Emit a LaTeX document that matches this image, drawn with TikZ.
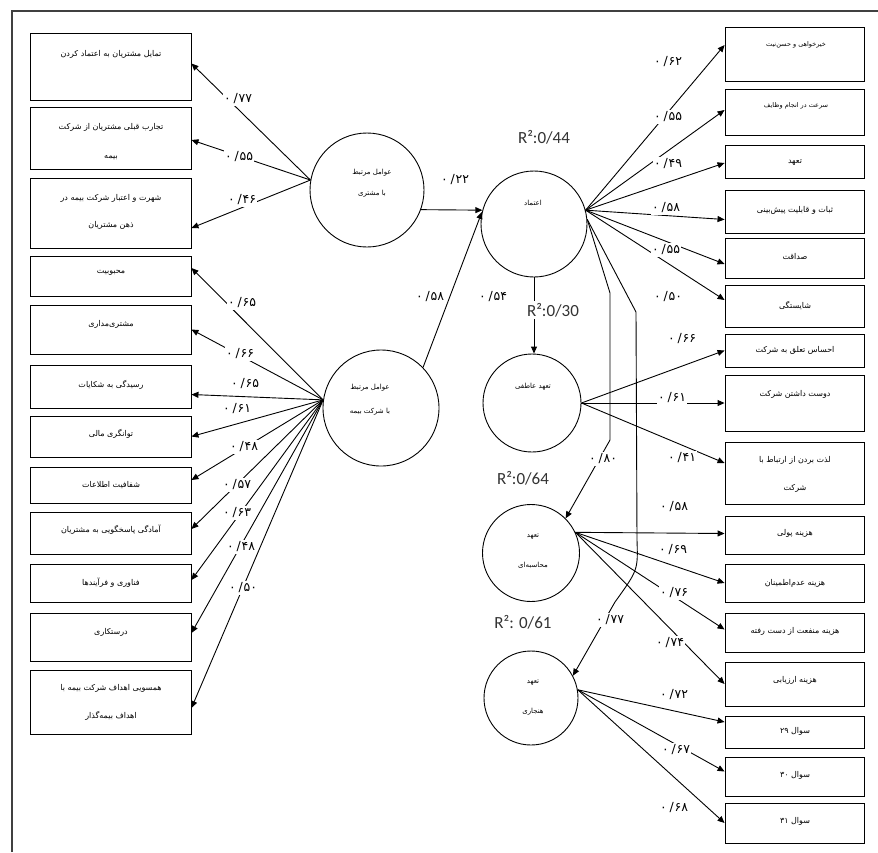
\documentclass[tikz,border=0pt]{standalone}
\usepackage{fontspec}
\setmainfont{DejaVu Sans}
\newfontfamily\arabicfont[Script=Arabic]{DejaVu Sans}
\newfontfamily\calibfont{Carlito}
\TeXXeTstate=1
\usetikzlibrary{arrows.meta,fit,calc}
\newcommand\fatext[1]{\hbox{\arabicfont\beginR #1\endR}}
\newcommand\ldg[1]{\hbox{\arabicfont\beginR\beginL ۰\kern3pt/\kern0.6pt#1\endL\endR}}
\begin{document}
\begin{tikzpicture}[x=1pt,y=-1pt,
  box/.style={draw, line width=0.9pt, inner sep=0pt},
  circ/.style={draw, circle, line width=0.9pt, inner sep=0pt},
  ftxt/.style={inner sep=0pt, font=\fontsize{8}{9}\selectfont},
  stxt/.style={inner sep=0pt, font=\fontsize{6.5}{7}\selectfont},
  ctxt/.style={inner sep=0pt, font=\fontsize{7}{8}\selectfont},
  lab/.style={fill=white, inner sep=1.5pt, font=\fontsize{12.5}{13}\selectfont},
  rsq/.style={fill=white, inner sep=2pt, font=\fontsize{17}{18}\selectfont\calibfont, text=black!80},
  conn/.style={draw, line width=0.9pt, -{Triangle[length=7pt,width=6pt]}}]
\useasboundingbox (0,0) rectangle (878,852);
% frame
\draw[line width=1.6pt, black!75] (12,852) -- (12,11) -- (878,11);

% left boxes
\node[box, fit={(30,33) (191,100)}] (l1) {};
\node[box, fit={(30,107) (191,169)}] (l2) {};
\node[box, fit={(30,178) (191,248)}] (l3) {};
\node[box, fit={(30,256) (191,296)}] (l4) {};
\node[box, fit={(30,305) (191,354)}] (l5) {};
\node[box, fit={(30,365) (191,408)}] (l6) {};
\node[box, fit={(30,416) (191,457)}] (l7) {};
\node[box, fit={(30,467) (191,503)}] (l8) {};
\node[box, fit={(30,512) (191,554)}] (l9) {};
\node[box, fit={(30,564) (191,602)}] (l10) {};
\node[box, fit={(30,613) (191,661)}] (l11) {};
\node[box, fit={(30,670) (191,734)}] (l12) {};

\node[ftxt] at (111,54) {\fatext{تمایل مشتریان به اعتماد کردن}};
\node[ftxt] at (111,127) {\fatext{تجارب قبلی مشتریان از شرکت}};
\node[ftxt] at (111,158) {\fatext{بیمه}};
\node[ftxt] at (111,198) {\fatext{شهرت و اعتبار شرکت بیمه در}};
\node[ftxt] at (111,225) {\fatext{ذهن مشتریان}};
\node[ftxt] at (111,273) {\fatext{محبوبیت}};
\node[ftxt] at (111,324) {\fatext{مشتری‌مداری}};
\node[ftxt] at (111,385) {\fatext{رسیدگی به شکایات}};
\node[ftxt] at (111,434) {\fatext{توانگری مالی}};
\node[ftxt] at (111,485) {\fatext{شفافیت اطلاعات}};
\node[ftxt] at (111,530) {\fatext{آمادگی پاسخگویی به مشتریان}};
\node[ftxt] at (111,583) {\fatext{فناوری و فرآیندها}};
\node[ftxt] at (111,632) {\fatext{درستکاری}};
\node[ftxt] at (111,688) {\fatext{همسویی اهداف شرکت بیمه با}};
\node[ftxt] at (111,716) {\fatext{اهداف بیمه‌گذار}};

% right boxes
\node[box, fit={(725,27) (864,81)}] (r1) {};
\node[box, fit={(725,89) (864,135)}] (r2) {};
\node[box, fit={(725,145) (864,178)}] (r3) {};
\node[box, fit={(725,190) (864,233)}] (r4) {};
\node[box, fit={(725,238) (864,278)}] (r5) {};
\node[box, fit={(725,285) (864,327)}] (r6) {};
\node[box, fit={(725,334) (864,367)}] (r7) {};
\node[box, fit={(725,375) (864,431)}] (r8) {};
\node[box, fit={(725,442) (864,504)}] (r9) {};
\node[box, fit={(725,516) (864,554)}] (r10) {};
\node[box, fit={(725,564) (864,602)}] (r11) {};
\node[box, fit={(725,613) (864,652)}] (r12) {};
\node[box, fit={(725,662) (864,706)}] (r13) {};
\node[box, fit={(725,716) (864,748)}] (r14) {};
\node[box, fit={(725,757) (864,796)}] (r15) {};
\node[box, fit={(725,803) (864,843)}] (r16) {};

\node[stxt] at (796,45) {\fatext{خیرخواهی و حسن‌نیت}};
\node[stxt] at (796,106) {\fatext{سرعت در انجام وظایف}};
\node[ftxt] at (795,163) {\fatext{تعهد}};
\node[ftxt] at (795,210) {\fatext{ثبات و قابلیت پیش‌بینی}};
\node[ftxt] at (795,257) {\fatext{صداقت}};
\node[ftxt] at (795,305) {\fatext{شایستگی}};
\node[ftxt] at (795,350) {\fatext{احساس تعلق به شرکت}};
\node[ftxt] at (795,394) {\fatext{دوست داشتن شرکت}};
\node[ftxt] at (795,460) {\fatext{لذت بردن از ارتباط با}};
\node[ftxt] at (795,488) {\fatext{شرکت}};
\node[ftxt] at (795,533) {\fatext{هزینه پولی}};
\node[ftxt] at (795,583) {\fatext{هزینه عدم‌اطمینان}};
\node[ftxt] at (795,631) {\fatext{هزینه منفعت از دست رفته}};
\node[ftxt] at (795,680) {\fatext{هزینه ارزیابی}};
\node[ftxt] at (795,731) {\fatext{سوال \beginL ۲۹\endL}};
\node[ftxt] at (795,775) {\fatext{سوال \beginL ۳۰\endL}};
\node[ftxt] at (795,821) {\fatext{سوال \beginL ۳۱\endL}};

% circles
\node[circ, minimum size=114pt] (c1) at (367,190) {};
\node[circ, minimum size=116pt] (c2) at (381,408) {};
\node[circ, minimum size=106pt] (c3) at (534,224) {};
\node[circ, minimum size=98pt] (c4) at (532,403) {};
\node[circ, minimum size=97pt] (c5) at (531,553) {};
\node[circ, minimum size=94pt] (c6) at (531,698) {};

\node[ctxt] at (372,173) {\fatext{عوامل مرتبط}};
\node[ctxt] at (372,194) {\fatext{با مشتری}};
\node[ctxt] at (370,388) {\fatext{عوامل مرتبط}};
\node[ctxt] at (370,412) {\fatext{با شرکت بیمه}};
\node[ctxt] at (533,203) {\fatext{اعتماد}};
\node[ctxt] at (533,387) {\fatext{تعهد عاطفی}};
\node[ctxt] at (533,537) {\fatext{تعهد}};
\node[ctxt] at (533,565) {\fatext{محاسبه‌ای}};
\node[ctxt] at (533,683) {\fatext{تعهد}};
\node[ctxt] at (533,712) {\fatext{هنجاری}};

% connectors C1
\draw[conn] (c1.170) -- ([yshift=3pt]l1.east);
\draw[conn] (c1.170) -- ([yshift=-2pt]l2.east);
\draw[conn] (c1.170) -- ([yshift=-15pt]l3.east);
% connectors C2
\draw[conn] (c2.172) -- ([yshift=8pt]l4.east);
\draw[conn] (c2.172) -- (l5.east);
\draw[conn] (c2.172) -- ([yshift=-8pt]l6.east);
\draw[conn] (c2.172) -- (l7.east);
\draw[conn] (c2.172) -- ([yshift=5pt]l8.east);
\draw[conn] (c2.172) -- ([yshift=4pt]l9.east);
\draw[conn] (c2.172) -- ([yshift=3pt]l10.east);
\draw[conn] (c2.172) -- ([yshift=4pt]l11.east);
\draw[conn] (c2.172) -- ([yshift=-6pt]l12.east);
% structural
\draw[conn] (c1.-20) -- (c3.165);
\draw[conn] (c2.44) -- (c3.167);
\draw[conn] (c3.south) -- (c3.south |- c4.north);
\draw[conn] (c3.5) -- (610,293) -- (610,440) -- (c5.45);
\draw[conn] (c3.5) -- (636,312) -- (637,540) .. controls (638,570) .. (615,602) -- (c6.28);
% connectors C3
\draw[conn] (c3.15) -- ([yshift=9pt]r1.west);
\draw[conn] (c3.15) -- ([yshift=2pt]r2.west);
\draw[conn] (c3.15) -- ([yshift=-1.5pt]r3.west);
\draw[conn] (c3.15) -- ([yshift=-8pt]r4.west);
\draw[conn] (c3.15) -- ([yshift=-6pt]r5.west);
\draw[conn] (c3.15) -- ([yshift=6pt]r6.west);
% connectors C4
\draw[conn] (c4.east) -- (r7.west);
\draw[conn] (c4.east) -- (r8.west);
\draw[conn] (c4.east) -- ([yshift=10pt]r9.west);
% connectors C5
\draw[conn] (c5.25) -- ([yshift=1.5pt]r10.west);
\draw[conn] (c5.25) -- (r11.west);
\draw[conn] (c5.25) -- ([yshift=3pt]r12.west);
\draw[conn] (c5.25) -- (r13.west);
% connectors C6
\draw[conn] (c6.10) -- ([yshift=10pt]r14.west);
\draw[conn] (c6.10) -- ([yshift=5pt]r15.west);
\draw[conn] (c6.10) -- (r16.west);

% loading labels
\node[lab] at (238,99) {\ldg{۷۷}};
\node[lab] at (239,157) {\ldg{۵۵}};
\node[lab] at (242,200) {\ldg{۴۶}};
\node[lab] at (242,303) {\ldg{۶۵}};
\node[lab] at (240,354) {\ldg{۶۶}};
\node[lab] at (245,384) {\ldg{۶۵}};
\node[lab] at (237,409) {\ldg{۶۱}};
\node[lab] at (244,447) {\ldg{۴۸}};
\node[lab] at (237,485) {\ldg{۵۷}};
\node[lab] at (237,513) {\ldg{۶۳}};
\node[lab] at (241,547) {\ldg{۴۸}};
\node[lab] at (243,588) {\ldg{۵۰}};
\node[lab] at (455,180) {\ldg{۲۲}};
\node[lab] at (430,297) {\ldg{۵۸}};
\node[lab] at (493,297) {\ldg{۵۴}};
\node[lab] at (668,62) {\ldg{۶۲}};
\node[lab] at (668,117) {\ldg{۵۵}};
\node[lab] at (668,164) {\ldg{۴۹}};
\node[lab] at (666,208) {\ldg{۵۸}};
\node[lab] at (666,250) {\ldg{۵۵}};
\node[lab] at (668,297) {\ldg{۵۰}};
\node[lab] at (682,339) {\ldg{۶۶}};
\node[lab] at (672,398) {\ldg{۶۱}};
\node[lab] at (682,458) {\ldg{۴۱}};
\node[lab] at (603,459) {\ldg{۸۰}};
\node[lab] at (674,507) {\ldg{۵۸}};
\node[lab] at (673,550) {\ldg{۶۹}};
\node[lab] at (674,593) {\ldg{۷۶}};
\node[lab] at (670,643) {\ldg{۷۴}};
\node[lab] at (610,620) {\ldg{۷۷}};
\node[lab] at (674,695) {\ldg{۷۲}};
\node[lab] at (676,750) {\ldg{۶۷}};
\node[lab] at (674,808) {\ldg{۶۸}};

% R squared
\node[rsq] at (544,137) {R²:0/44};
\node[rsq] at (553,310) {R²:0/30};
\node[rsq] at (523,478) {R²:0/64};
\node[rsq] at (523,622) {R²: 0/61};
\end{tikzpicture}
\end{document}
